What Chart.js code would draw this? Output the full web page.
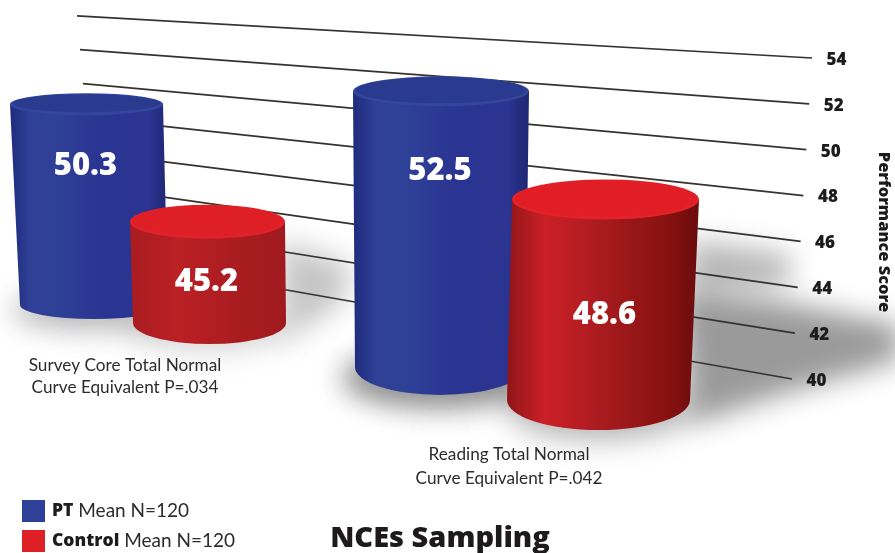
<!DOCTYPE html>
<html>
<head>
<meta charset="utf-8">
<style>
  html, body { margin: 0; padding: 0; background: #fff; overflow: hidden; }
  #wrap { width: 895px; height: 553px; position: relative; }
</style>
</head>
<body>
<div id="wrap"><canvas id="chart" width="895" height="553"></canvas></div>
<script src="https://cdn.jsdelivr.net/npm/chart.js@4"></script>
<script>
var categories = [
  ['Survey Core Total Normal', 'Curve Equivalent P=.034'],
  ['Reading Total Normal', 'Curve Equivalent P=.042']
];
var ptValues = [50.3, 52.5];
var controlValues = [45.2, 48.6];
var tickValues = [40, 42, 44, 46, 48, 50, 52, 54];
var axisTitle = 'Performance Score';
var chartTitle = 'NCEs Sampling';
var legendRows = [['PT', ' Mean N=120', '#2e4097'], ['Control', ' Mean N=120', '#df1f26']];

// how each cylinder sits in the fake 3D scene (series -> category)
// dx: from category centre, floor: from the y(40) pixel, depth: scale of value height
var look = [
  [
    { dx: -116.5, hw: 76.5, floor: -74, depth: 0.85, rt: 11, rb: 14, lean: 7.5, taper: -2.5, at: 0.31 },
    { dx: -168, hw: 88, floor: -12, depth: 0.962, rt: 15, rb: 28, lean: -1, taper: -3, at: 0.29 }
  ],
  [
    { dx: 4.5, hw: 77.5, floor: -56, depth: 0.85, rt: 17, rb: 21, lean: 2, taper: -1, at: 0.6 },
    { dx: -3.5, hw: 93.5, floor: 21, depth: 1.017, rt: 20, rb: 30, lean: -7, taper: -2, at: 0.575 }
  ]
];

var bluePaint = {
  side: [[0, '#1f2b7c'], [0.12, '#2e3f95'], [0.3, '#2f4097'], [0.6, '#2a3492'], [0.88, '#2b3490'], [1, '#1f2672']],
  top: '#2a3a8e', rim: '#33459c'
};
var redPaint = [
  { side: [[0, '#a81c20'], [0.3, '#bb2025'], [0.7, '#a91c20'], [1, '#a01a1d']], top: '#df1f26', rim: '#e0222a' },
  { side: [[0, '#8f1518'], [0.2, '#cc2027'], [0.5, '#a81b1f'], [0.85, '#85110f'], [1, '#6a0c0e']], top: '#e11e25', rim: '#e3222a' }
];

function gridSlope(yEnd) {
  return 0.057 + (yEnd - 57) * 0.00037;
}

function drawShadows(ctx) {
  ctx.save();
  ctx.filter = 'blur(14px)';
  ctx.fillStyle = 'rgba(120,120,122,0.75)';
  ctx.beginPath();
  ctx.moveTo(680, 290); ctx.lineTo(770, 300); ctx.lineTo(900, 325);
  ctx.lineTo(900, 360); ctx.lineTo(780, 395); ctx.lineTo(690, 425);
  ctx.closePath(); ctx.fill();
  ctx.fillStyle = 'rgba(120,120,122,0.55)';
  ctx.beginPath();
  ctx.moveTo(690, 240); ctx.lineTo(790, 255); ctx.lineTo(790, 285); ctx.lineTo(690, 295);
  ctx.closePath(); ctx.fill();
  ctx.fillStyle = 'rgba(110,110,112,0.4)';
  ctx.beginPath();
  ctx.moveTo(280, 240); ctx.lineTo(350, 265); ctx.lineTo(345, 300); ctx.lineTo(285, 340);
  ctx.closePath(); ctx.fill();
  ctx.fillStyle = 'rgba(90,90,92,0.45)';
  ctx.beginPath();
  ctx.ellipse(440, 378, 96, 28, 0, 0, Math.PI * 2); ctx.fill();
  ctx.ellipse(600, 410, 92, 30, 0, 0, Math.PI * 2); ctx.fill();
  ctx.fillStyle = 'rgba(110,110,112,0.3)';
  ctx.beginPath();
  ctx.ellipse(95, 310, 82, 18, 0, 0, Math.PI * 2); ctx.fill();
  ctx.ellipse(208, 328, 82, 22, 0, 0, Math.PI * 2); ctx.fill();
  ctx.restore();
}

function drawGrid(ctx, yScale) {
  ctx.save();
  ctx.strokeStyle = '#38322f';
  ctx.lineWidth = 1.7;
  tickValues.forEach(function(v) {
    var yEnd = yScale.getPixelForValue(v);
    var xEnd = 812 - (54 - v) * 1.43;
    var xStart = 77 + (54 - v) * 1.5;
    ctx.beginPath();
    ctx.moveTo(xEnd, yEnd);
    ctx.lineTo(xStart, yEnd - gridSlope(yEnd) * (xEnd - xStart));
    ctx.stroke();
  });
  ctx.restore();
}

function drawCylinder(ctx, cx, yTop, yBase, b, paint) {
  var cb = cx + b.lean, hb = b.hw + b.taper;
  var left = Math.min(cx - b.hw, cb - hb), right = Math.max(cx + b.hw, cb + hb);
  var g = ctx.createLinearGradient(left, 0, right, 0);
  paint.side.forEach(function(s) { g.addColorStop(s[0], s[1]); });
  ctx.fillStyle = g;
  ctx.beginPath();
  ctx.moveTo(cx - b.hw, yTop);
  ctx.lineTo(cb - hb, yBase);
  ctx.ellipse(cb, yBase, hb, b.rb, 0, Math.PI, 0, true);
  ctx.lineTo(cx + b.hw, yTop);
  ctx.closePath();
  ctx.fill();
  // top cap
  ctx.fillStyle = paint.rim;
  ctx.beginPath();
  ctx.ellipse(cx, yTop, b.hw, b.rt, 0, 0, Math.PI * 2);
  ctx.fill();
  ctx.fillStyle = paint.top;
  ctx.beginPath();
  ctx.ellipse(cx, yTop - 1, b.hw - 3, b.rt - 2, 0, 0, Math.PI * 2);
  ctx.fill();
}

var scenePlugin = {
  id: 'scene',
  beforeDatasetsDraw: function(chart) {
    var ctx = chart.ctx, y = chart.scales.y;
    drawShadows(ctx);
    drawGrid(ctx, y);
  },
  afterDatasetsDraw: function(chart) {
    var ctx = chart.ctx, x = chart.scales.x, y = chart.scales.y;
    var y40 = y.getPixelForValue(40);
    var labels = [];

    // draw back to front: category by category, PT then Control
    categories.forEach(function(c, ci) {
      chart.data.datasets.forEach(function(ds, si) {
        var b = look[si][ci];
        var el = chart.getDatasetMeta(si).data[ci];
        var cx = x.getPixelForValue(ci) + b.dx;
        var yBase = y40 + b.floor;
        var yTop = yBase - (y40 - el.y) * b.depth;
        var paint = si === 0 ? bluePaint : redPaint[ci];
        drawCylinder(ctx, cx, yTop, yBase, b, paint);
        labels.push({ text: ds.data[ci].toFixed(1), x: cx - 1 , y: yTop + (yBase - yTop) * b.at });
      });
    });

    ctx.save();
    ctx.textBaseline = 'middle';
    ctx.textAlign = 'center';
    ctx.fillStyle = '#fff';
    ctx.font = '800 31px "Open Sans"';
    labels.forEach(function(l) { ctx.fillText(l.text, l.x, l.y); });

    // tick labels follow the slanted axis
    ctx.fillStyle = '#1d1b1b';
    ctx.font = '800 17px "Open Sans"';
    tickValues.forEach(function(v) {
      ctx.fillText(String(v), 836.5 - (54 - v) * 1.43, y.getPixelForValue(v) + 2);
    });

    // category captions
    ctx.fillStyle = '#2d2c2c';
    ctx.font = '17.2px Lato';
    var capPos = [[125, 365, 387], [509, 454, 478]];
    categories.forEach(function(lines, i) {
      ctx.fillText(lines[0], capPos[i][0], capPos[i][1]);
      ctx.fillText(lines[1], capPos[i][0], capPos[i][2]);
    });

    // chart title
    ctx.fillStyle = '#1c1a1a';
    ctx.font = '800 29px "Open Sans"';
    ctx.fillText(chartTitle, 440, 539);

    // axis title, rotated down the right edge
    ctx.save();
    ctx.translate(884, 232);
    ctx.rotate(Math.PI / 2);
    ctx.font = '800 16.4px "Open Sans"';
    ctx.fillText(axisTitle, 0, 0);
    ctx.restore();

    // legend
    ctx.textAlign = 'left';
    legendRows.forEach(function(row, i) {
      var rowY = 500 + i * 30;
      ctx.fillStyle = row[2];
      ctx.fillRect(22, rowY, 23, 22);
      ctx.fillStyle = '#1d1b1b';
      ctx.font = '800 17.5px "Open Sans"';
      ctx.fillText(row[0], 52, rowY + 11);
      var w = ctx.measureText(row[0]).width;
      ctx.font = '19px Lato';
      ctx.fillStyle = '#2d2c2c';
      ctx.fillText(row[1], 52 + w, rowY + 11);
    });
    ctx.restore();
  }
};

new Chart(document.getElementById('chart'), {
  type: 'bar',
  data: {
    labels: categories,
    datasets: [
      { label: 'PT', data: ptValues, backgroundColor: 'transparent', borderWidth: 0 },
      { label: 'Control', data: controlValues, backgroundColor: 'transparent', borderWidth: 0 }
    ]
  },
  options: {
    responsive: false,
    animation: false,
    layout: { padding: { left: 0, right: 83, top: 58, bottom: 174 } },
    plugins: { legend: { display: false }, tooltip: { enabled: false }, title: { display: false } },
    scales: {
      x: { display: false },
      y: { display: false, min: 40, max: 54, ticks: { stepSize: 2 } }
    }
  },
  plugins: [scenePlugin]
});
</script>
</body>
</html>
